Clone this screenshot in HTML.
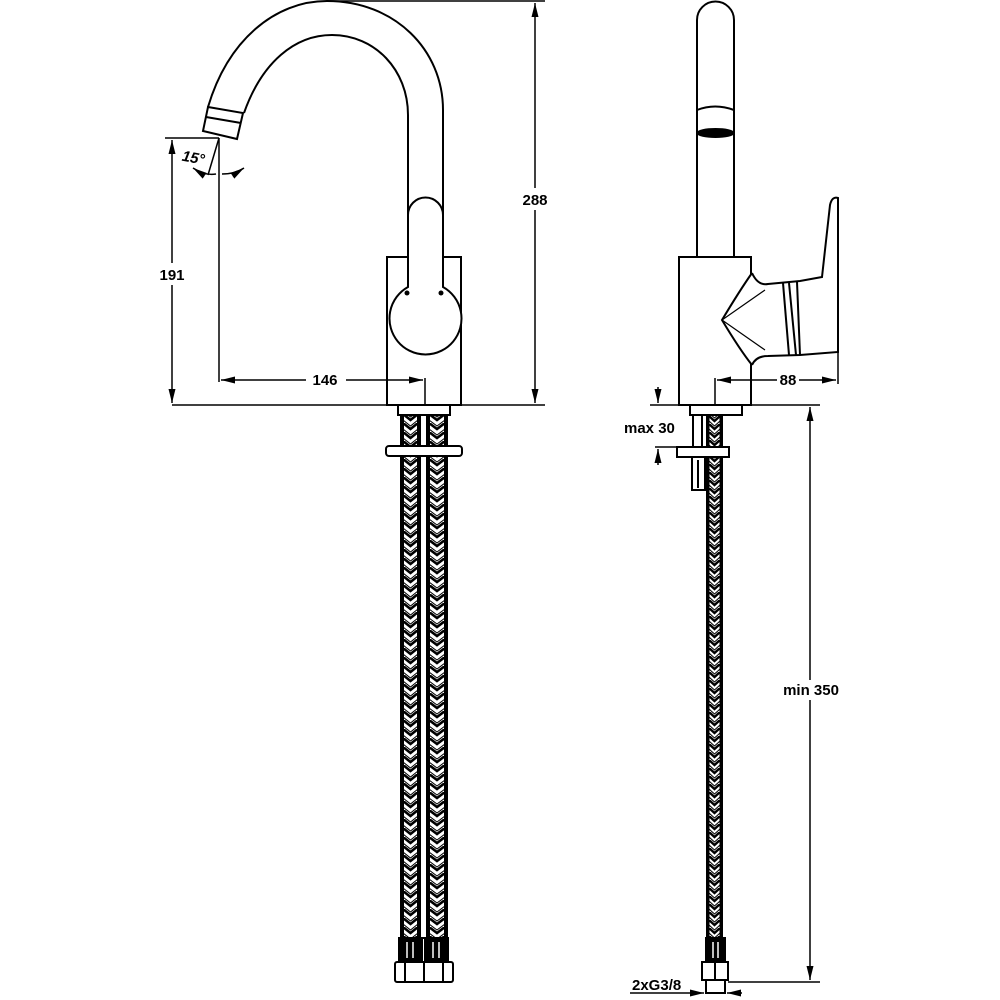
<!DOCTYPE html>
<html><head><meta charset="utf-8"><style>
html,body{margin:0;padding:0;background:#fff;}
svg{display:block;}
text{font-family:"Liberation Sans",Arial,sans-serif;font-weight:bold;font-size:15px;fill:#000;}
</style></head><body>
<svg width="1000" height="1000" viewBox="0 0 1000 1000" xmlns="http://www.w3.org/2000/svg">
<defs>
<pattern id="b1" x="401" y="0" width="19" height="9" patternUnits="userSpaceOnUse">
<rect width="19" height="9" fill="#fff"/>
<polyline points="2,0 9.5,6 17,0" fill="none" stroke="#000" stroke-width="2.6"/>
<polyline points="2,-3 9.5,3 17,-3" fill="none" stroke="#000" stroke-width="1"/>
<polyline points="2,6 9.5,12 17,6" fill="none" stroke="#000" stroke-width="1"/>
<rect x="0" y="0" width="3" height="9" fill="#000"/><rect x="16" y="0" width="3" height="9" fill="#000"/>
</pattern>
<pattern id="b2" x="427" y="0" width="20" height="9" patternUnits="userSpaceOnUse">
<rect width="20" height="9" fill="#fff"/>
<polyline points="2,0 10,6 18,0" fill="none" stroke="#000" stroke-width="2.6"/>
<polyline points="2,-3 10,3 18,-3" fill="none" stroke="#000" stroke-width="1"/>
<polyline points="2,6 10,12 18,6" fill="none" stroke="#000" stroke-width="1"/>
<rect x="0" y="0" width="3" height="9" fill="#000"/><rect x="17" y="0" width="3" height="9" fill="#000"/>
</pattern>
<pattern id="b3" x="707" y="0" width="15" height="8" patternUnits="userSpaceOnUse">
<rect width="15" height="8" fill="#fff"/>
<polyline points="2,0 7.5,5 13,0" fill="none" stroke="#000" stroke-width="2.4"/>
<polyline points="2,-3 7.5,2 13,-3" fill="none" stroke="#000" stroke-width="1"/>
<polyline points="2,5 7.5,10 13,5" fill="none" stroke="#000" stroke-width="1"/>
<rect x="0" y="0" width="2.5" height="8" fill="#000"/><rect x="12.5" y="0" width="2.5" height="8" fill="#000"/>
</pattern>
<marker id="ar" viewBox="0 0 14 7" refX="14" refY="3.5" markerWidth="14" markerHeight="7" orient="auto-start-reverse" markerUnits="userSpaceOnUse">
<path d="M0,0 L14,3.5 L0,7 Z" fill="#000"/>
</marker>
</defs>
<g fill="none" stroke="#000" stroke-width="2">
<path d="M208,107 C228,40 275,1 327,1 C395,1 443,50 443,110 L443,262"/>
<path d="M244,113 C262,62 295,35 332,35 C375,35 408,70 408,115 L408,262"/>
<path d="M208,107 L243,113 L237,139 L203,131 Z" fill="#fff"/>
<line x1="206" y1="117" x2="241" y2="123"/>
<rect x="387" y="257" width="74" height="148" fill="#fff"/>
<path d="M408,287 L408,215 A17.5,17.5 0 0 1 443,215 L443,287 A36,36 0 1 1 408,287 Z" fill="#fff"/>
<circle cx="407" cy="293" r="2.5" fill="#000" stroke="none"/>
<circle cx="441" cy="293" r="2.5" fill="#000" stroke="none"/>
</g>
<g stroke="#000" stroke-width="1.5" fill="none">
<line x1="327" y1="1" x2="545" y2="1"/>
<line x1="172" y1="405" x2="545" y2="405"/>
<line x1="535" y1="3" x2="535" y2="403" marker-start="url(#ar)" marker-end="url(#ar)"/>
<line x1="165" y1="138" x2="219" y2="138"/>
<line x1="172" y1="140" x2="172" y2="403" marker-start="url(#ar)" marker-end="url(#ar)"/>
<line x1="219" y1="138" x2="219" y2="382"/>
<line x1="219" y1="138" x2="208" y2="175"/>
<path d="M193,168 Q205,176 216,174" marker-start="url(#ar)"/>
<path d="M222,174 Q235,174 244,168" marker-end="url(#ar)"/>
<line x1="221" y1="380" x2="423" y2="380" marker-start="url(#ar)" marker-end="url(#ar)"/>
<line x1="425" y1="378" x2="425" y2="405"/>
</g>
<rect x="517" y="188" width="36" height="22" fill="#fff"/>
<text x="535" y="205" text-anchor="middle">288</text>
<rect x="156" y="263" width="34" height="22" fill="#fff"/>
<text x="172" y="280" text-anchor="middle">191</text>
<rect x="306" y="370" width="40" height="20" fill="#fff"/>
<text x="325" y="385" text-anchor="middle">146</text>
<text x="182" y="163" font-style="italic" font-size="14" transform="rotate(10 195 158)">15°</text>

<g stroke="#000" stroke-width="2" fill="#fff">
<rect x="398" y="405" width="52" height="10"/>
<rect x="401" y="415" width="19" height="523" fill="url(#b1)"/>
<rect x="427" y="415" width="20" height="523" fill="url(#b2)"/>
<rect x="420" y="415" width="7" height="523"/>
<rect x="386" y="446" width="76" height="10" rx="3"/>
<rect x="399" y="938" width="23" height="24" fill="#000"/>
<rect x="425" y="938" width="23" height="24" fill="#000"/>
<rect x="395" y="962" width="58" height="20" rx="2"/>
<line x1="424" y1="962" x2="424" y2="982"/>
<line x1="405" y1="962" x2="405" y2="982"/><line x1="443" y1="962" x2="443" y2="982"/>
</g>
<g stroke="#fff" stroke-width="1.5">
<line x1="407" y1="942" x2="407" y2="958"/><line x1="413" y1="942" x2="413" y2="958"/>
<line x1="433" y1="942" x2="433" y2="958"/><line x1="439" y1="942" x2="439" y2="958"/>
</g>

<g fill="#fff" stroke="#000" stroke-width="2">
<path d="M697,258 L697,20 A18.5,18.5 0 0 1 734,20 L734,258"/>
<path d="M697,110 Q715,103 734,110"/>
<ellipse cx="715.5" cy="133" rx="18" ry="4" fill="#000"/>
<rect x="679" y="257" width="72" height="148"/>
<path d="M752,273 Q740,290 722,320 Q740,350 752,365"/>
<path d="M752,273 Q758,286 768,284 L800,281 L822,277 Q826,240 830,205 Q832,196 838,198 L838,352 L800,355 L768,356 Q756,356 752,365"/>
<line x1="783" y1="283" x2="789" y2="355"/>
<line x1="789" y1="283" x2="796" y2="355"/>
<line x1="797" y1="282" x2="800" y2="355"/>
<path d="M722,320 L765,290 M722,320 L765,350" stroke-width="1.2"/>
<rect x="690" y="405" width="52" height="10"/>
<rect x="693" y="415" width="9" height="32"/>
<rect x="707" y="415" width="15" height="523" fill="url(#b3)"/>
<rect x="677" y="447" width="52" height="10"/>
<rect x="692" y="457" width="13" height="33"/>
<line x1="698" y1="460" x2="698" y2="488"/>
<rect x="706" y="938" width="19" height="24" fill="#000"/>
<rect x="702" y="962" width="26" height="18"/>
<line x1="715" y1="962" x2="715" y2="980"/>
<rect x="706" y="980" width="19" height="13"/>
</g>
<g stroke="#fff" stroke-width="1.5">
<line x1="713" y1="942" x2="713" y2="958"/><line x1="718" y1="942" x2="718" y2="958"/>
</g>
<g stroke="#000" stroke-width="1.5" fill="none">
<line x1="717" y1="380" x2="836" y2="380" marker-start="url(#ar)" marker-end="url(#ar)"/>
<line x1="715" y1="378" x2="715" y2="405"/>
<line x1="838" y1="352" x2="838" y2="384"/>
<line x1="650" y1="405" x2="680" y2="405"/>
<line x1="742" y1="405" x2="820" y2="405"/>
<line x1="655" y1="447" x2="677" y2="447"/>
<line x1="658" y1="387" x2="658" y2="403" marker-end="url(#ar)"/>
<line x1="658" y1="465" x2="658" y2="449" marker-end="url(#ar)"/>
<line x1="810" y1="407" x2="810" y2="980" marker-start="url(#ar)" marker-end="url(#ar)"/>
<line x1="728" y1="982" x2="820" y2="982"/>
<line x1="630" y1="993" x2="704" y2="993" marker-end="url(#ar)"/>
<line x1="742" y1="993" x2="727" y2="993" marker-end="url(#ar)"/>
</g>
<rect x="777" y="370" width="22" height="20" fill="#fff"/>
<text x="788" y="385" text-anchor="middle">88</text>
<text x="624" y="433">max 30</text>
<rect x="780" y="680" width="62" height="20" fill="#fff"/>
<text x="811" y="695" text-anchor="middle">min 350</text>
<text x="632" y="990">2xG3/8</text>
</svg>
</body></html>
